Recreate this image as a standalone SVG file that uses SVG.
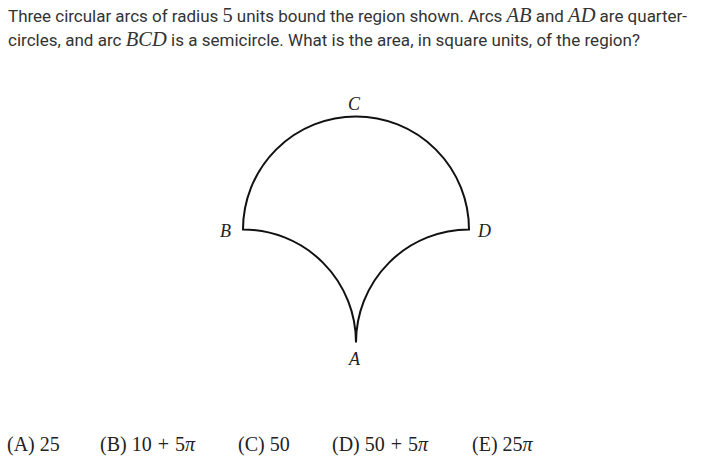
<svg xmlns="http://www.w3.org/2000/svg" width="715" height="459" viewBox="0 0 715 459">
<style>
.q{font-family:Roboto,"Liberation Sans",sans-serif;font-size:17px;fill:#333}
.m{font-family:"Liberation Serif",serif;font-style:italic;font-size:20.5px}
.n{font-family:"Liberation Serif",serif;font-size:20.5px}
.lbl{font-family:"Liberation Serif",serif;font-style:italic;font-size:18px;fill:#222}
.ans{font-family:"Liberation Serif",serif;font-size:20px;fill:#222}
.arc{fill:none;stroke:#111;stroke-width:2;stroke-linejoin:miter}
</style>
<rect width="715" height="459" fill="#fff"/>
<g id="question">
<text class="q" x="8" y="22" textLength="679" lengthAdjust="spacing">Three circular arcs of radius <tspan class="n">5</tspan> units bound the region shown. Arcs <tspan class="m">AB</tspan> and <tspan class="m">AD</tspan> are quarter-</text>
<text class="q" x="8" y="46" textLength="632" lengthAdjust="spacing">circles, and arc <tspan class="m">BCD</tspan> is a semicircle. What is the area, in square units, of the region?</text>
</g>
<g id="connectors">
<path id="region" class="arc" d="M 243 229.5 A 113 113 0 0 1 469 229.5 A 113 113 0 0 0 356 342.5 A 113 113 0 0 0 243 229.5 Z"/>
</g>
<g id="nodeB"><text class="lbl" x="220" y="237">B</text></g>
<g id="nodeC"><text class="lbl" x="348" y="110">C</text></g>
<g id="nodeD"><text class="lbl" x="478" y="237">D</text></g>
<g id="nodeA"><text class="lbl" x="349" y="365">A</text></g>
<g id="answers">
<text class="ans" x="7" y="451">(A) 25</text>
<text class="ans" x="100" y="451">(B) 10<tspan dx="6">+</tspan><tspan dx="6">5</tspan><tspan font-style="italic">π</tspan></text>
<text class="ans" x="238" y="451">(C) 50</text>
<text class="ans" x="332" y="451">(D) 50<tspan dx="6">+</tspan><tspan dx="6">5</tspan><tspan font-style="italic">π</tspan></text>
<text class="ans" x="472" y="451">(E) 25<tspan font-style="italic">π</tspan></text>
</g>
</svg>
